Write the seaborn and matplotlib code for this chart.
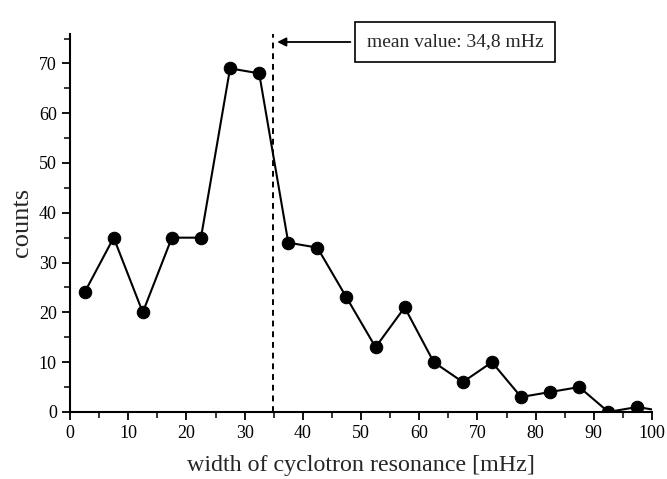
import matplotlib
matplotlib.use("Agg")
import matplotlib.pyplot as plt
import seaborn as sns
import pandas as pd

width_mhz = [2.5, 7.5, 12.5, 17.5, 22.5, 27.5, 32.5, 37.5, 42.5, 47.5,
             52.5, 57.5, 62.5, 67.5, 72.5, 77.5, 82.5, 87.5, 92.5, 97.5, 102.5]
counts = [24, 35, 20, 35, 35, 69, 68, 34, 33, 23,
          13, 21, 10, 6, 10, 3, 4, 5, 0, 1, 0]
mean_value = 34.8
annotation_text = "mean value: 34,8 mHz"

df = pd.DataFrame({"width": width_mhz, "counts": counts})

sns.set_style("ticks")
plt.rcParams["font.family"] = ["Liberation Serif", "DejaVu Serif"]

fig = plt.figure(figsize=(6.67, 4.79), dpi=100)
ax = fig.add_axes([0.105, 0.14, 0.8725, 0.79])

sns.lineplot(data=df, x="width", y="counts", ax=ax, color="black",
             marker="o", markersize=9, linewidth=1.5, markeredgecolor="black")

ax.axvline(mean_value, color="black", linestyle=(0, (3, 2.5)), linewidth=1.4)

ax.annotate(annotation_text, xy=(35.6, 74.3), xytext=(51.0, 74.3),
            fontsize=14, ha="left", va="center",
            bbox=dict(boxstyle="square,pad=0.6", fc="white", ec="black", lw=1.2),
            arrowprops=dict(arrowstyle="-|>", color="black", lw=1.3,
                            shrinkA=3, shrinkB=0, mutation_scale=13))

ax.set_xlim(0, 100)
ax.set_ylim(0, 76)
ax.set_xticks(range(0, 101, 10))
ax.set_xticks(range(5, 100, 10), minor=True)
ax.set_yticks(range(0, 71, 10))
ax.set_yticks(range(5, 76, 10), minor=True)

for s in ["top", "right"]:
    ax.spines[s].set_visible(False)
for s in ["left", "bottom"]:
    ax.spines[s].set_linewidth(1.5)
    ax.spines[s].set_color("black")

ax.tick_params(axis="both", which="major", direction="out", length=6, width=1.3,
               labelsize=13, colors="black")
ax.tick_params(axis="both", which="minor", direction="out", length=4, width=1.3)

ax.set_xlabel("width of cyclotron resonance [mHz]", fontsize=17.3, labelpad=9)
ax.set_ylabel("counts", fontsize=19, labelpad=4)

fig.savefig("out.png", dpi=100)
